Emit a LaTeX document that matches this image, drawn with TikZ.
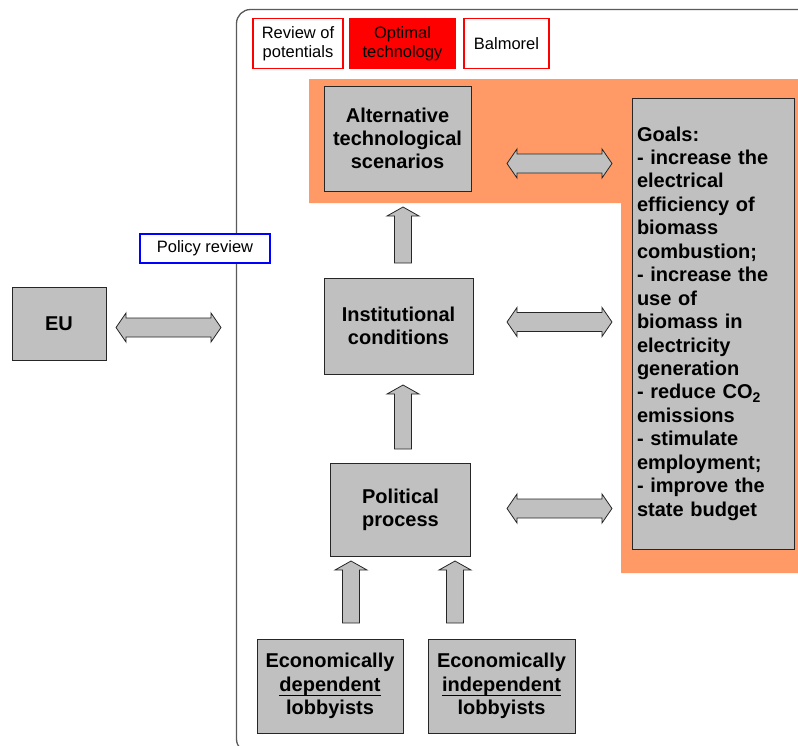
\documentclass[tikz,border=0pt]{standalone}
\usepackage{fontspec}
\setmainfont{Liberation Sans}
\usetikzlibrary{calc}

\definecolor{boxgray}{RGB}{192,192,192}
\definecolor{salmon}{RGB}{255,153,102}
\definecolor{framegray}{RGB}{90,90,90}

\tikzset{
  greybox/.style={draw=black!85, line width=0.9pt, fill=boxgray, inner sep=0pt,
    align=center, font=\bfseries\fontsize{20}{23.2}\selectfont},
  tagbox/.style={draw=red, line width=1.3pt, inner sep=0pt, align=center,
    minimum width=90pt, minimum height=50pt,
    font=\fontsize{16.5}{19}\selectfont},
  policybox/.style={draw=blue, line width=1.4pt, fill=white, inner sep=0pt,
    font=\fontsize{16.5}{19}\selectfont},
  blockarrow/.style={draw=black!85, line width=0.8pt, fill=boxgray, line join=miter},
  frameline/.style={draw=framegray, line width=1.3pt, rounded corners=14pt}
}

% word underlined just below its descenders, without changing line spacing
\newcommand{\ulword}[1]{\setbox0\hbox{#1}\rlap{\rule[-4.8pt]{\wd0}{1.1pt}}\box0}

% upward block arrow from a base point #1 to a tip #2
\newcommand{\upblock}[2]{%
  \draw[blockarrow] ($(#1)+(-8.5,0)$) -- ($(#2)+(-8.5,9)$) -- ($(#2)+(-16,9)$)
    -- (#2) -- ($(#2)+(16,9)$) -- ($(#2)+(8.5,9)$) -- ($(#1)+(8.5,0)$) -- cycle;}
% horizontal double-headed block arrow between tips #1 (left) and #2 (right)
\newcommand{\twoblock}[2]{%
  \draw[blockarrow] (#1) -- ($(#1)+(10,-14.5)$) -- ($(#1)+(10,-9.5)$)
    -- ($(#2)+(-10,-9.5)$) -- ($(#2)+(-10,-14.5)$) -- (#2)
    -- ($(#2)+(-10,14.5)$) -- ($(#2)+(-10,9.5)$) -- ($(#1)+(10,9.5)$)
    -- ($(#1)+(10,14.5)$) -- cycle;}

\begin{document}
\begin{tikzpicture}[x=1pt, y=-1pt]
\useasboundingbox (0,0) rectangle (798,745);

% outer frame of the national system
\draw[frameline] (840,9.5) -- (236.5,9.5) -- (236.5,753) -- (840,753);

% shaded zone behind scenarios and goals
\fill[salmon] (309,79) -- (810,79) -- (810,573) -- (621,573) -- (621,203) -- (309,203) -- cycle;

% tool labels
\node[tagbox, fill=white] (review) at (298,43.5) {Review of\\potentials};
\node[tagbox, fill=red, minimum width=106pt] (optimal) at (402.5,43.5) {Optimal\\technology};
\node[tagbox, fill=white, minimum width=85pt] (balmorel) at (506.5,43.5) {Balmorel};

% main boxes
\node[greybox, minimum width=147pt, minimum height=105pt] (alt) at (397.5,138.5)
  {Alternative\\technological\\scenarios};
\node[greybox, minimum width=149pt, minimum height=96pt] (inst) at (398.5,326)
  {Institutional\\conditions};
\node[greybox, minimum width=140pt, minimum height=93pt] (pol) at (400.5,510)
  {Political\\process};
\node[greybox, minimum width=146pt, minimum height=94pt] (dep) at (330,686)
  {Economically\\\ulword{dependent}\\lobbyists};
\node[greybox, minimum width=147pt, minimum height=94pt] (indep) at (501.5,686)
  {Economically\\\ulword{independent}\\lobbyists};
\node[greybox, minimum width=94pt, minimum height=73pt] (eu) at (59,323.5) {EU};
\node[greybox, minimum width=162pt, minimum height=451pt, text width=152pt,
  inner xsep=5pt, align=left, font=\bfseries\fontsize{20}{23.45}\selectfont] (goals) at (713,323.5)
  {Goals:\\- increase the\\electrical\\efficiency of\\biomass\\combustion;\\- increase the\\use of\\biomass in\\electricity\\generation\\- reduce CO\textsubscript{2}\\emissions\\- stimulate\\employment;\\- improve the\\state budget};

\node[policybox, minimum width=130pt, minimum height=29pt] (policy) at (205,248.5) {Policy review};

% arrow end points
\coordinate (a1b) at (403,263);   \coordinate (a1t) at (403,207);
\coordinate (a2b) at (403,449);   \coordinate (a2t) at (403,385);
\coordinate (a3b) at (351,623);   \coordinate (a3t) at (351,561);
\coordinate (a4b) at (455,623);   \coordinate (a4t) at (455,561);
\coordinate (euL) at (116,327.5); \coordinate (euR) at (221,327.5);
\coordinate (altL) at (507,163.5); \coordinate (altR) at (612,163.5);
\coordinate (instL) at (507,322);  \coordinate (instR) at (612,322);
\coordinate (polL) at (507,508.5); \coordinate (polR) at (612,508.5);

% upward influence arrows
\upblock{a1b}{a1t}
\upblock{a2b}{a2t}
\upblock{a3b}{a3t}
\upblock{a4b}{a4t}

% two-way relations
\twoblock{euL}{euR}
\twoblock{altL}{altR}
\twoblock{instL}{instR}
\twoblock{polL}{polR}
\end{tikzpicture}
\end{document}
